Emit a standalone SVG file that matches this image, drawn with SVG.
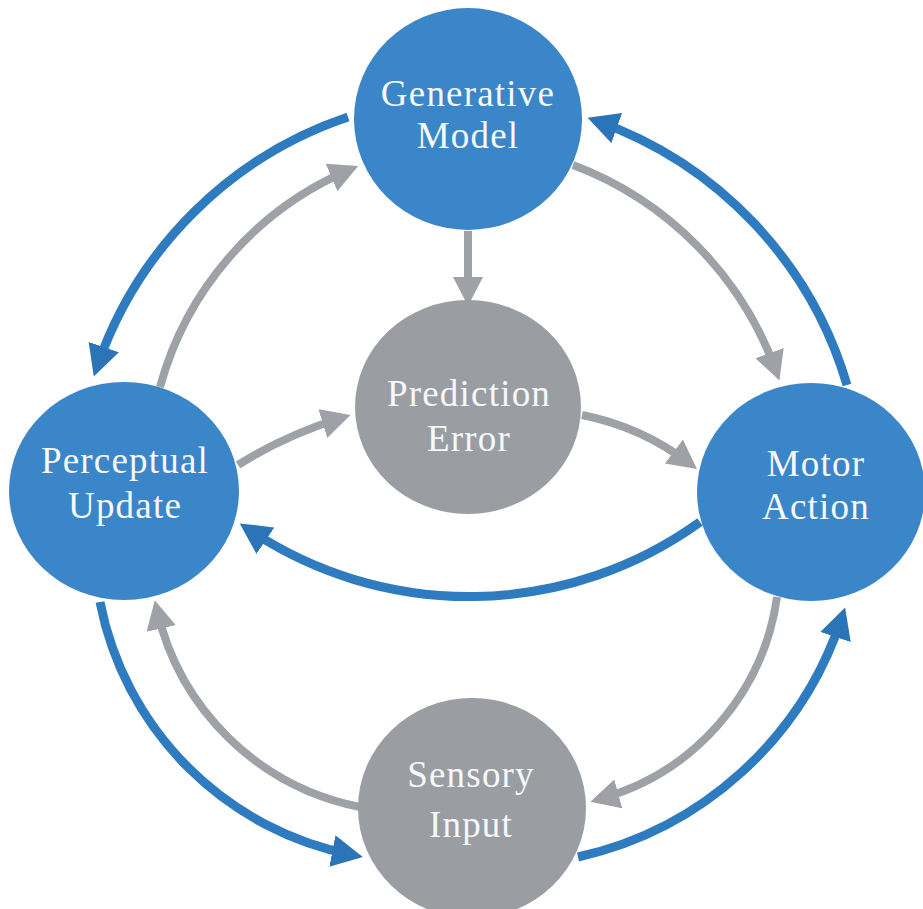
<svg xmlns="http://www.w3.org/2000/svg" width="923" height="909" viewBox="0 0 923 909">
<defs>
<style>
.blue{fill:#3a86c8}
.gray{fill:#9a9ea2}
.lbl{font-family:"Liberation Serif","Times New Roman",serif;font-size:37px;letter-spacing:1.2px;fill:#f6f8fb;text-anchor:middle}
.cb{fill:none;stroke:#2f7bc0;stroke-width:9}
.cg{fill:none;stroke:#9ea2a7;stroke-width:8}
</style>
<marker id="ab" markerUnits="userSpaceOnUse" markerWidth="32" markerHeight="32" refX="21" refY="16" orient="auto"><path d="M0,0 L31,16 L0,32 z" fill="#2b74b8"/></marker>
<marker id="ag" markerUnits="userSpaceOnUse" markerWidth="30" markerHeight="30" refX="19" refY="15" orient="auto"><path d="M0,0 L29,15 L0,30 z" fill="#9ea2a7"/></marker>
</defs>
<rect width="923" height="909" fill="#ffffff"/>
<g id="connectors">
<path class="cb" marker-end="url(#ab)" d="M348,117 A400,400 0 0 0 97,367"/>
<path class="cg" marker-end="url(#ag)" d="M160,387 A330,330 0 0 1 349,170"/>
<path class="cb" marker-end="url(#ab)" d="M847,385 A400,400 0 0 0 597,121"/>
<path class="cg" marker-end="url(#ag)" d="M573,165 A345,345 0 0 1 776,371"/>
<path class="cg" marker-end="url(#ag)" d="M468,231 L468,296"/>
<path class="cg" marker-end="url(#ag)" d="M238,465 A430,430 0 0 1 341,418"/>
<path class="cg" marker-end="url(#ag)" d="M582,415 A261,261 0 0 1 689,463"/>
<path class="cb" marker-end="url(#ab)" d="M700,522 A395,395 0 0 1 248,529"/>
<path class="cb" marker-end="url(#ab)" d="M100,602 A320,320 0 0 0 353,855"/>
<path class="cg" marker-end="url(#ag)" d="M360,807 A260,260 0 0 1 157,610"/>
<path class="cg" marker-end="url(#ag)" d="M777,597 A245,245 0 0 1 600,799"/>
<path class="cb" marker-end="url(#ab)" d="M578,857 A360,360 0 0 0 842,617"/>
</g>
<g id="generative-model">
<ellipse class="blue" cx="468" cy="119" rx="114" ry="111"/>
<text class="lbl" x="468" y="106">Generative</text>
<text class="lbl" x="468" y="148">Model</text>
</g>
<g id="prediction-error">
<ellipse class="gray" cx="468" cy="407" rx="113" ry="107"/>
<text class="lbl" x="469" y="406">Prediction</text>
<text class="lbl" x="469" y="451">Error</text>
</g>
<g id="perceptual-update">
<ellipse class="blue" cx="124" cy="491" rx="115" ry="109"/>
<text class="lbl" x="125" y="473">Perceptual</text>
<text class="lbl" x="125" y="518">Update</text>
</g>
<g id="motor-action">
<ellipse class="blue" cx="811" cy="492" rx="114" ry="109"/>
<text class="lbl" x="816" y="476">Motor</text>
<text class="lbl" x="816" y="519">Action</text>
</g>
<g id="sensory-input">
<ellipse class="gray" cx="472" cy="808" rx="114" ry="110"/>
<text class="lbl" x="471" y="787">Sensory</text>
<text class="lbl" x="471" y="837">Input</text>
</g>
</svg>
